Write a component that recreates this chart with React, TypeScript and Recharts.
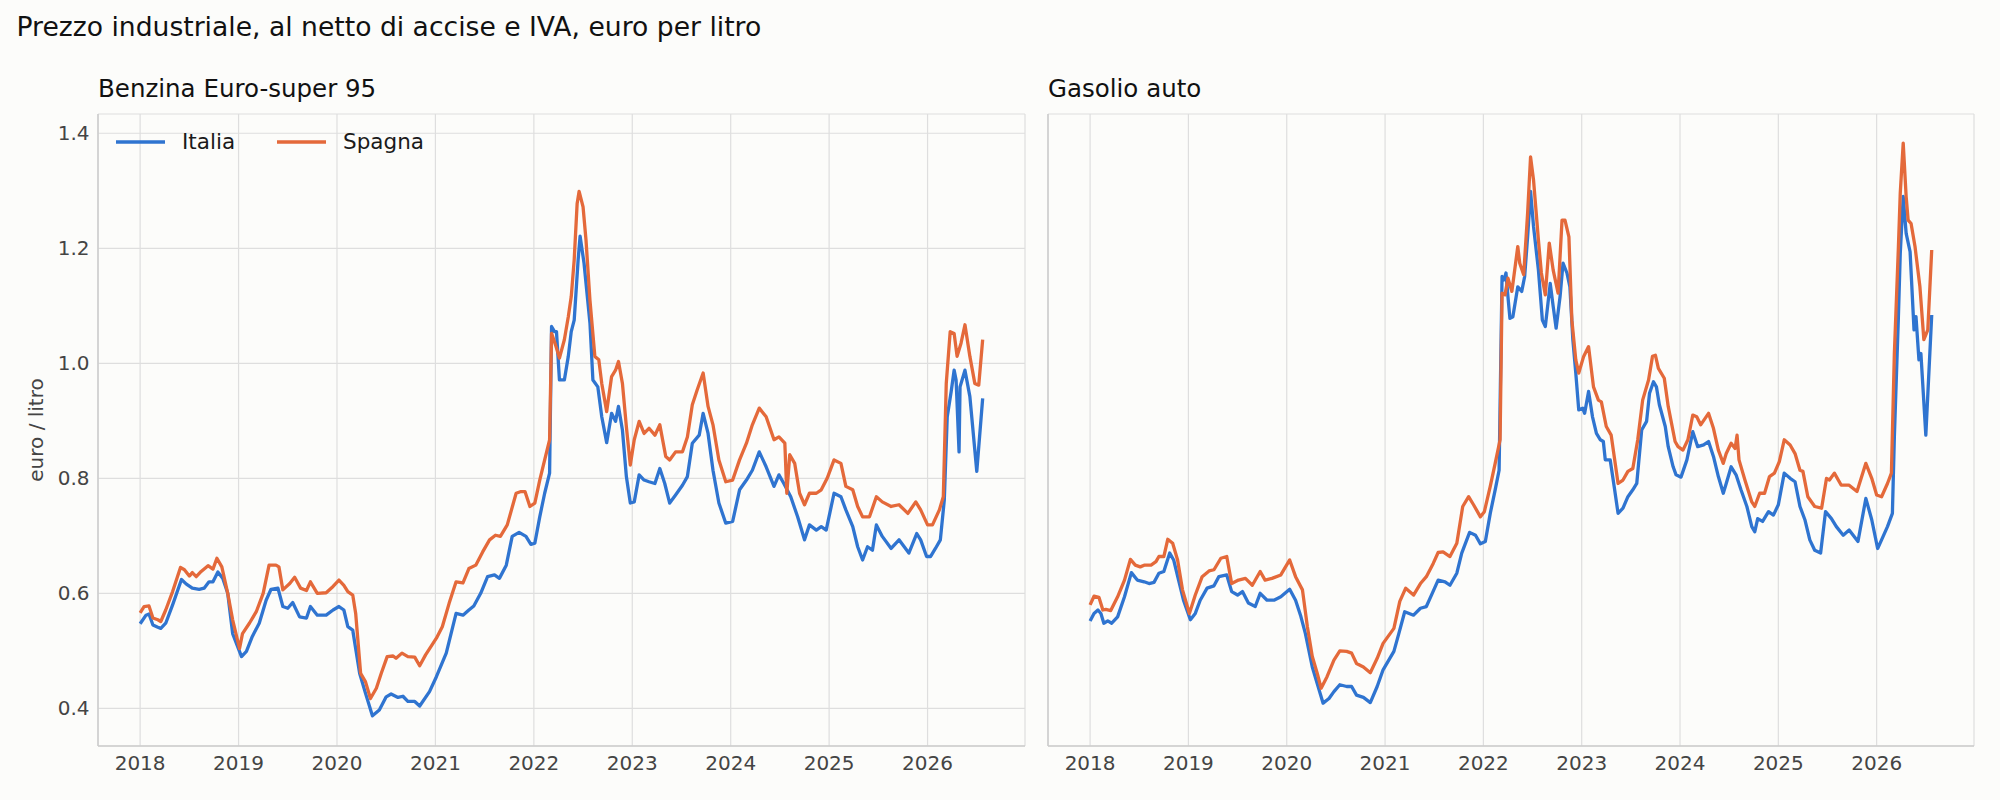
import React from "react";
import { LineChart, Line, XAxis, YAxis, CartesianGrid, Legend } from "recharts";

type Pt = [number, number];

// [anno decimale, euro/litro]
const benzinaItalia: Pt[] = [
  [2018.0, 0.547], [2018.06, 0.562], [2018.09, 0.564], [2018.13, 0.545], [2018.18, 0.541], [2018.21, 0.539],
  [2018.26, 0.548], [2018.33, 0.58], [2018.42, 0.624], [2018.47, 0.616], [2018.53, 0.609], [2018.6, 0.607],
  [2018.65, 0.609], [2018.7, 0.62], [2018.74, 0.62], [2018.79, 0.637], [2018.84, 0.626], [2018.89, 0.6],
  [2018.94, 0.53], [2019.03, 0.49], [2019.08, 0.499], [2019.14, 0.525], [2019.21, 0.548], [2019.28, 0.588],
  [2019.33, 0.607], [2019.4, 0.609], [2019.45, 0.577], [2019.5, 0.574], [2019.55, 0.584], [2019.62, 0.559],
  [2019.69, 0.557], [2019.73, 0.577], [2019.8, 0.562], [2019.89, 0.562], [2019.96, 0.571], [2020.02, 0.577],
  [2020.07, 0.571], [2020.11, 0.542], [2020.16, 0.536], [2020.23, 0.461], [2020.29, 0.426], [2020.36, 0.387],
  [2020.43, 0.397], [2020.5, 0.42], [2020.55, 0.425], [2020.62, 0.419], [2020.67, 0.421], [2020.72, 0.412],
  [2020.79, 0.412], [2020.84, 0.404], [2020.94, 0.429], [2021.01, 0.455], [2021.11, 0.496], [2021.21, 0.565],
  [2021.28, 0.562], [2021.34, 0.571], [2021.39, 0.578], [2021.46, 0.6], [2021.53, 0.629], [2021.6, 0.632],
  [2021.65, 0.626], [2021.72, 0.649], [2021.78, 0.699], [2021.85, 0.706], [2021.92, 0.699], [2021.97, 0.685],
  [2022.01, 0.687], [2022.06, 0.733], [2022.11, 0.774], [2022.16, 0.809], [2022.18, 1.064], [2022.21, 1.055],
  [2022.23, 1.055], [2022.26, 0.971], [2022.31, 0.971], [2022.35, 1.012], [2022.38, 1.055], [2022.41, 1.075],
  [2022.45, 1.18], [2022.47, 1.221], [2022.51, 1.174], [2022.57, 1.07], [2022.6, 0.971], [2022.65, 0.959],
  [2022.69, 0.907], [2022.74, 0.862], [2022.79, 0.913], [2022.83, 0.899], [2022.86, 0.925], [2022.9, 0.884],
  [2022.94, 0.803], [2022.98, 0.757], [2023.02, 0.759], [2023.07, 0.806], [2023.12, 0.797], [2023.17, 0.794],
  [2023.23, 0.791], [2023.28, 0.817], [2023.33, 0.791], [2023.38, 0.757], [2023.44, 0.771], [2023.51, 0.788],
  [2023.56, 0.803], [2023.61, 0.861], [2023.68, 0.875], [2023.72, 0.913], [2023.77, 0.878], [2023.82, 0.814],
  [2023.88, 0.757], [2023.95, 0.722], [2024.02, 0.725], [2024.09, 0.78], [2024.16, 0.797], [2024.22, 0.814],
  [2024.29, 0.846], [2024.36, 0.82], [2024.44, 0.786], [2024.49, 0.806], [2024.54, 0.791], [2024.61, 0.768],
  [2024.68, 0.733], [2024.75, 0.693], [2024.8, 0.719], [2024.87, 0.71], [2024.92, 0.716], [2024.97, 0.71],
  [2025.05, 0.774], [2025.12, 0.768], [2025.17, 0.745], [2025.24, 0.716], [2025.29, 0.681], [2025.34, 0.658],
  [2025.39, 0.681], [2025.44, 0.675], [2025.48, 0.719], [2025.54, 0.699], [2025.63, 0.678], [2025.71, 0.693],
  [2025.81, 0.67], [2025.89, 0.704], [2025.93, 0.693], [2025.99, 0.664], [2026.03, 0.664], [2026.08, 0.678],
  [2026.13, 0.693], [2026.17, 0.762], [2026.2, 0.907], [2026.24, 0.951], [2026.27, 0.988], [2026.29, 0.971],
  [2026.32, 0.846], [2026.33, 0.959], [2026.38, 0.988], [2026.43, 0.942], [2026.5, 0.812], [2026.56, 0.939],
];

const benzinaSpagna: Pt[] = [
  [2018.0, 0.566], [2018.04, 0.577], [2018.09, 0.578], [2018.13, 0.557], [2018.18, 0.554], [2018.21, 0.551],
  [2018.26, 0.571], [2018.33, 0.603], [2018.41, 0.645], [2018.45, 0.641], [2018.5, 0.63], [2018.53, 0.636],
  [2018.57, 0.629], [2018.62, 0.638], [2018.69, 0.648], [2018.74, 0.642], [2018.78, 0.661], [2018.83, 0.646],
  [2018.89, 0.6], [2018.94, 0.554], [2019.01, 0.504], [2019.04, 0.53], [2019.11, 0.548], [2019.18, 0.568],
  [2019.25, 0.6], [2019.31, 0.649], [2019.38, 0.649], [2019.41, 0.646], [2019.45, 0.606], [2019.52, 0.617],
  [2019.57, 0.628], [2019.63, 0.609], [2019.69, 0.605], [2019.73, 0.62], [2019.8, 0.6], [2019.89, 0.601],
  [2019.96, 0.612], [2020.02, 0.623], [2020.07, 0.614], [2020.11, 0.603], [2020.16, 0.597], [2020.19, 0.565],
  [2020.24, 0.461], [2020.29, 0.446], [2020.34, 0.417], [2020.4, 0.435], [2020.45, 0.461], [2020.51, 0.49],
  [2020.57, 0.491], [2020.6, 0.487], [2020.66, 0.496], [2020.72, 0.49], [2020.79, 0.489], [2020.84, 0.474],
  [2020.9, 0.493], [2021.01, 0.522], [2021.07, 0.542], [2021.14, 0.583], [2021.21, 0.62], [2021.28, 0.618],
  [2021.34, 0.643], [2021.41, 0.649], [2021.48, 0.672], [2021.55, 0.693], [2021.61, 0.701], [2021.66, 0.699],
  [2021.73, 0.719], [2021.82, 0.774], [2021.87, 0.777], [2021.91, 0.777], [2021.96, 0.751], [2022.01, 0.757],
  [2022.06, 0.797], [2022.11, 0.832], [2022.16, 0.867], [2022.18, 1.052], [2022.22, 1.032], [2022.26, 1.009],
  [2022.31, 1.041], [2022.35, 1.081], [2022.38, 1.116], [2022.41, 1.18], [2022.44, 1.278], [2022.46, 1.299],
  [2022.5, 1.272], [2022.53, 1.214], [2022.57, 1.11], [2022.62, 1.012], [2022.66, 1.006], [2022.69, 0.965],
  [2022.74, 0.916], [2022.79, 0.977], [2022.83, 0.988], [2022.86, 1.003], [2022.9, 0.965], [2022.94, 0.89],
  [2022.98, 0.823], [2023.02, 0.867], [2023.07, 0.899], [2023.12, 0.878], [2023.17, 0.887], [2023.23, 0.875],
  [2023.28, 0.893], [2023.34, 0.838], [2023.38, 0.832], [2023.44, 0.846], [2023.51, 0.846], [2023.56, 0.872],
  [2023.61, 0.928], [2023.66, 0.954], [2023.72, 0.983], [2023.77, 0.925], [2023.82, 0.893], [2023.88, 0.832],
  [2023.95, 0.794], [2024.02, 0.797], [2024.09, 0.832], [2024.16, 0.861], [2024.22, 0.893], [2024.29, 0.922],
  [2024.36, 0.907], [2024.44, 0.867], [2024.49, 0.872], [2024.55, 0.861], [2024.57, 0.774], [2024.6, 0.841],
  [2024.65, 0.826], [2024.7, 0.774], [2024.75, 0.754], [2024.8, 0.774], [2024.87, 0.774], [2024.92, 0.78],
  [2024.98, 0.8], [2025.05, 0.832], [2025.12, 0.826], [2025.17, 0.786], [2025.24, 0.78], [2025.29, 0.751],
  [2025.34, 0.733], [2025.41, 0.733], [2025.48, 0.768], [2025.54, 0.759], [2025.63, 0.751], [2025.71, 0.754],
  [2025.8, 0.739], [2025.88, 0.759], [2025.93, 0.745], [2026.0, 0.719], [2026.05, 0.719], [2026.12, 0.745],
  [2026.16, 0.768], [2026.19, 0.965], [2026.23, 1.055], [2026.27, 1.052], [2026.3, 1.012], [2026.34, 1.035],
  [2026.38, 1.067], [2026.43, 1.012], [2026.48, 0.965], [2026.52, 0.962], [2026.56, 1.041],
];

const gasolioItalia: Pt[] = [
  [2018.0, 0.552], [2018.04, 0.565], [2018.08, 0.571], [2018.11, 0.565], [2018.14, 0.548], [2018.18, 0.552],
  [2018.22, 0.548], [2018.28, 0.559], [2018.35, 0.594], [2018.42, 0.636], [2018.48, 0.623], [2018.55, 0.62],
  [2018.6, 0.617], [2018.65, 0.619], [2018.7, 0.635], [2018.75, 0.638], [2018.81, 0.67], [2018.85, 0.658],
  [2018.9, 0.623], [2018.95, 0.588], [2019.02, 0.554], [2019.07, 0.565], [2019.12, 0.588], [2019.19, 0.609],
  [2019.26, 0.613], [2019.31, 0.629], [2019.39, 0.632], [2019.44, 0.603], [2019.5, 0.597], [2019.55, 0.603],
  [2019.61, 0.583], [2019.68, 0.577], [2019.73, 0.6], [2019.8, 0.588], [2019.87, 0.588], [2019.94, 0.594],
  [2020.03, 0.607], [2020.09, 0.588], [2020.14, 0.562], [2020.19, 0.53], [2020.26, 0.472], [2020.31, 0.443],
  [2020.37, 0.409], [2020.43, 0.417], [2020.48, 0.429], [2020.54, 0.441], [2020.61, 0.438], [2020.66, 0.438],
  [2020.71, 0.423], [2020.78, 0.419], [2020.85, 0.41], [2020.92, 0.438], [2020.98, 0.467], [2021.09, 0.499],
  [2021.14, 0.53], [2021.2, 0.568], [2021.29, 0.562], [2021.36, 0.574], [2021.42, 0.577], [2021.48, 0.6],
  [2021.54, 0.623], [2021.61, 0.62], [2021.66, 0.614], [2021.73, 0.635], [2021.78, 0.67], [2021.86, 0.706],
  [2021.92, 0.701], [2021.97, 0.686], [2022.02, 0.69], [2022.07, 0.739], [2022.12, 0.78], [2022.16, 0.814],
  [2022.19, 1.151], [2022.21, 1.145], [2022.23, 1.157], [2022.25, 1.116], [2022.27, 1.078], [2022.3, 1.081],
  [2022.35, 1.133], [2022.39, 1.125], [2022.42, 1.151], [2022.45, 1.22], [2022.48, 1.299], [2022.51, 1.238],
  [2022.56, 1.162], [2022.6, 1.075], [2022.63, 1.064], [2022.68, 1.139], [2022.71, 1.099], [2022.74, 1.061],
  [2022.78, 1.116], [2022.81, 1.174], [2022.85, 1.157], [2022.88, 1.133], [2022.91, 1.041], [2022.94, 0.983],
  [2022.97, 0.919], [2023.01, 0.922], [2023.03, 0.913], [2023.07, 0.951], [2023.11, 0.907], [2023.15, 0.878],
  [2023.19, 0.867], [2023.22, 0.864], [2023.24, 0.832], [2023.29, 0.832], [2023.33, 0.786], [2023.37, 0.739],
  [2023.42, 0.748], [2023.47, 0.768], [2023.52, 0.78], [2023.56, 0.791], [2023.61, 0.884], [2023.66, 0.899],
  [2023.69, 0.948], [2023.73, 0.968], [2023.76, 0.959], [2023.79, 0.928], [2023.85, 0.89], [2023.88, 0.855],
  [2023.93, 0.82], [2023.96, 0.806], [2024.01, 0.802], [2024.07, 0.832], [2024.13, 0.881], [2024.18, 0.855],
  [2024.24, 0.858], [2024.29, 0.864], [2024.34, 0.838], [2024.39, 0.803], [2024.44, 0.774], [2024.47, 0.791],
  [2024.52, 0.82], [2024.57, 0.806], [2024.62, 0.78], [2024.68, 0.751], [2024.73, 0.716], [2024.76, 0.707],
  [2024.79, 0.73], [2024.84, 0.725], [2024.9, 0.742], [2024.95, 0.736], [2025.0, 0.754], [2025.06, 0.809],
  [2025.12, 0.8], [2025.17, 0.794], [2025.22, 0.751], [2025.27, 0.728], [2025.32, 0.693], [2025.37, 0.675],
  [2025.43, 0.67], [2025.48, 0.742], [2025.54, 0.73], [2025.59, 0.716], [2025.66, 0.701], [2025.72, 0.71],
  [2025.81, 0.69], [2025.89, 0.765], [2025.95, 0.728], [2026.01, 0.678], [2026.05, 0.693], [2026.11, 0.716],
  [2026.16, 0.739], [2026.18, 0.872], [2026.22, 1.075], [2026.24, 1.191], [2026.27, 1.29], [2026.3, 1.226],
  [2026.34, 1.194], [2026.38, 1.058], [2026.4, 1.081], [2026.43, 1.006], [2026.45, 1.017], [2026.5, 0.875],
  [2026.56, 1.084],
];

const gasolioSpagna: Pt[] = [
  [2018.0, 0.58], [2018.04, 0.595], [2018.09, 0.593], [2018.13, 0.571], [2018.16, 0.572], [2018.21, 0.57],
  [2018.28, 0.594], [2018.35, 0.623], [2018.41, 0.659], [2018.46, 0.649], [2018.51, 0.646], [2018.55, 0.649],
  [2018.62, 0.649], [2018.67, 0.655], [2018.7, 0.664], [2018.75, 0.664], [2018.79, 0.694], [2018.84, 0.687],
  [2018.89, 0.658], [2018.94, 0.606], [2019.01, 0.565], [2019.07, 0.597], [2019.14, 0.629], [2019.21, 0.639],
  [2019.26, 0.641], [2019.33, 0.661], [2019.39, 0.664], [2019.44, 0.617], [2019.51, 0.623], [2019.58, 0.626],
  [2019.65, 0.614], [2019.73, 0.638], [2019.78, 0.623], [2019.85, 0.626], [2019.94, 0.632], [2020.03, 0.658],
  [2020.09, 0.629], [2020.16, 0.606], [2020.21, 0.542], [2020.26, 0.49], [2020.31, 0.461], [2020.35, 0.435],
  [2020.41, 0.455], [2020.48, 0.484], [2020.54, 0.5], [2020.61, 0.499], [2020.66, 0.496], [2020.71, 0.478],
  [2020.78, 0.472], [2020.85, 0.462], [2020.92, 0.487], [2020.98, 0.513], [2021.09, 0.539], [2021.15, 0.586],
  [2021.21, 0.609], [2021.29, 0.597], [2021.36, 0.617], [2021.42, 0.629], [2021.49, 0.652], [2021.54, 0.671],
  [2021.59, 0.672], [2021.66, 0.664], [2021.73, 0.687], [2021.79, 0.751], [2021.85, 0.768], [2021.9, 0.754],
  [2021.97, 0.733], [2022.01, 0.742], [2022.07, 0.786], [2022.12, 0.826], [2022.17, 0.867], [2022.19, 1.122],
  [2022.22, 1.119], [2022.25, 1.148], [2022.29, 1.125], [2022.35, 1.203], [2022.37, 1.174], [2022.41, 1.154],
  [2022.45, 1.261], [2022.48, 1.359], [2022.51, 1.319], [2022.56, 1.214], [2022.59, 1.157], [2022.63, 1.119],
  [2022.67, 1.209], [2022.71, 1.162], [2022.76, 1.122], [2022.8, 1.249], [2022.83, 1.249], [2022.87, 1.22],
  [2022.9, 1.075], [2022.94, 1.006], [2022.97, 0.983], [2023.02, 1.012], [2023.07, 1.029], [2023.12, 0.959],
  [2023.17, 0.936], [2023.2, 0.933], [2023.25, 0.89], [2023.3, 0.875], [2023.37, 0.791], [2023.42, 0.797],
  [2023.47, 0.812], [2023.52, 0.817], [2023.57, 0.867], [2023.62, 0.936], [2023.68, 0.971], [2023.72, 1.012],
  [2023.75, 1.014], [2023.78, 0.991], [2023.84, 0.974], [2023.88, 0.925], [2023.95, 0.864], [2023.98, 0.855],
  [2024.03, 0.849], [2024.08, 0.867], [2024.13, 0.91], [2024.17, 0.907], [2024.21, 0.893], [2024.29, 0.913],
  [2024.34, 0.887], [2024.39, 0.849], [2024.44, 0.826], [2024.47, 0.843], [2024.52, 0.861], [2024.56, 0.852],
  [2024.58, 0.875], [2024.6, 0.832], [2024.66, 0.797], [2024.73, 0.759], [2024.76, 0.751], [2024.81, 0.774],
  [2024.86, 0.774], [2024.91, 0.803], [2024.96, 0.809], [2025.01, 0.829], [2025.06, 0.867], [2025.12, 0.858],
  [2025.17, 0.843], [2025.22, 0.814], [2025.25, 0.812], [2025.3, 0.768], [2025.37, 0.751], [2025.44, 0.748],
  [2025.49, 0.8], [2025.52, 0.797], [2025.57, 0.809], [2025.64, 0.788], [2025.72, 0.788], [2025.8, 0.777],
  [2025.89, 0.826], [2025.95, 0.8], [2026.0, 0.771], [2026.05, 0.768], [2026.11, 0.791], [2026.15, 0.809],
  [2026.18, 1.017], [2026.22, 1.197], [2026.24, 1.296], [2026.27, 1.383], [2026.3, 1.29], [2026.32, 1.249],
  [2026.35, 1.243], [2026.39, 1.203], [2026.44, 1.133], [2026.48, 1.041], [2026.52, 1.058], [2026.56, 1.197],
];

const yearTicks = [2018, 2019, 2020, 2021, 2022, 2023, 2024, 2025, 2026];
const priceTicks = [0.4, 0.6, 0.8, 1.0, 1.2, 1.4];
const seriesNames = ["Italia", "Spagna"];
const panelTitles = ["Benzina Euro-super 95", "Gasolio auto"];
const chartTitle = "Prezzo industriale, al netto di accise e IVA, euro per litro";
const yLabel = "euro / litro";

const FONT = "'DejaVu Sans', sans-serif";
const COLORS: Record<string, string> = { Italia: "#2f74d0", Spagna: "#e4693a" };
const GRID = "#dedede";
const SPINE = "#cccccc";
const X_DOMAIN: [number, number] = [2017.572, 2026.99];
const Y_DOMAIN: [number, number] = [0.3345, 1.4335];

const toRows = (pts: Pt[]) => pts.map(([x, y]) => ({ x, y }));

const renderLegend = () => (
  <div style={{ display: "flex", alignItems: "center", fontFamily: FONT, fontSize: 21.5, color: "#1a1a1a", lineHeight: "24px" }}>
    {seriesNames.map((name, i) => (
      <div key={name} style={{ display: "flex", alignItems: "center", marginRight: i === 0 ? 42 : 0 }}>
        <svg width={49} height={8} style={{ display: "block" }}>
          <line x1={0} y1={4} x2={49} y2={4} stroke={COLORS[name]} strokeWidth={3.5} />
        </svg>
        <span style={{ marginLeft: 17, whiteSpace: "nowrap" }}>{name}</span>
      </div>
    ))}
  </div>
);

interface PanelProps {
  left: number;
  width: number;
  italia: Pt[];
  spagna: Pt[];
  first: boolean;
}

function Panel({ left, width, italia, spagna, first }: PanelProps) {
  const tickStyle = { fill: "#444", fontSize: 20, fontFamily: FONT };
  return (
    <div style={{ position: "absolute", left, top: 0 }}>
      <LineChart
        width={width}
        height={800}
        margin={first ? { top: 114, right: 10, bottom: 14, left: 30 } : { top: 114, right: 16, bottom: 14, left: 0 }}
      >
        <CartesianGrid stroke={GRID} strokeWidth={1.2} />
        <XAxis
          type="number"
          dataKey="x"
          domain={X_DOMAIN}
          ticks={yearTicks}
          allowDataOverflow
          height={40}
          tickLine={false}
          tickSize={6}
          tickMargin={4}
          tick={tickStyle}
          axisLine={{ stroke: SPINE, strokeWidth: 1.5 }}
        />
        <YAxis
          type="number"
          domain={Y_DOMAIN}
          ticks={priceTicks}
          allowDataOverflow
          width={first ? 68 : 8}
          tickLine={false}
          tickSize={6}
          tickMargin={2.5}
          tick={first ? tickStyle : false}
          tickFormatter={(v: number) => v.toFixed(1)}
          axisLine={{ stroke: SPINE, strokeWidth: 1.5 }}
          label={
            first
              ? { value: yLabel, angle: -90, position: "insideLeft", offset: 6, style: { textAnchor: "middle", fill: "#444", fontSize: 20, fontFamily: FONT } }
              : undefined
          }
        />
        {first && (
          <Legend
            layout="horizontal"
            verticalAlign="middle"
            align="center"
            content={renderLegend}
            wrapperStyle={{ left: 116, top: 130, width: "auto", height: "auto" }}
          />
        )}
        <Line
          data={toRows(italia)}
          dataKey="y"
          name="Italia"
          type="linear"
          stroke={COLORS.Italia}
          strokeWidth={3.3}
          strokeLinejoin="round"
          dot={false}
          activeDot={false}
          isAnimationActive={false}
        />
        <Line
          data={toRows(spagna)}
          dataKey="y"
          name="Spagna"
          type="linear"
          stroke={COLORS.Spagna}
          strokeWidth={3.3}
          strokeLinejoin="round"
          dot={false}
          activeDot={false}
          isAnimationActive={false}
        />
      </LineChart>
    </div>
  );
}

export default function App() {
  return (
    <div style={{ position: "absolute", left: 0, top: 0, width: 2000, height: 800, background: "#fcfcfa", fontFamily: FONT, overflow: "hidden" }}>
      <svg width={2000} height={110} style={{ position: "absolute", left: 0, top: 0 }}>
        <text x={16.5} y={36} fontSize={26.6} fill="#111" fontFamily={FONT}>{chartTitle}</text>
        <text x={98} y={96.5} fontSize={24.5} fill="#111" fontFamily={FONT}>{panelTitles[0]}</text>
        <text x={1048} y={96.5} fontSize={24.5} fill="#111" fontFamily={FONT}>{panelTitles[1]}</text>
      </svg>
      <Panel left={0} width={1035} italia={benzinaItalia} spagna={benzinaSpagna} first />
      <Panel left={1040} width={950} italia={gasolioItalia} spagna={gasolioSpagna} first={false} />
    </div>
  );
}
